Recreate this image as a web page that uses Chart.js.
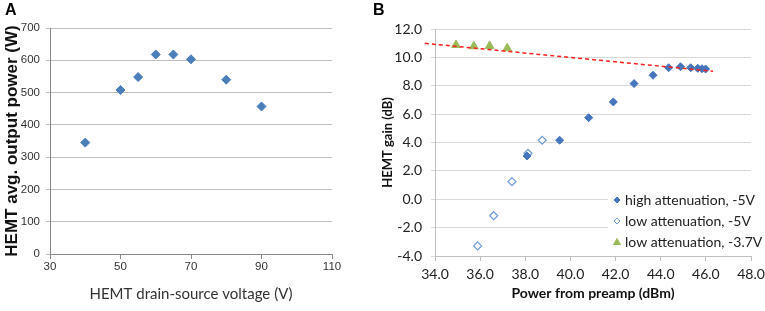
<!DOCTYPE html>
<html>
<head>
<meta charset="utf-8">
<script src="https://cdn.jsdelivr.net/npm/chart.js@4/dist/chart.umd.min.js"></script>
<style>
  html, body { margin: 0; padding: 0; background: #fff; }
  #wrap { position: relative; width: 765px; height: 311px; overflow: hidden; }
  canvas { position: absolute; top: 0; }
  .panel { position: absolute; top: 2px; font: bold 16px "Liberation Sans", Arial, sans-serif; line-height: 16px; color: #000; }
</style>
</head>
<body>
<div id="wrap">
  <canvas id="chartA" width="385" height="311" style="left:0"></canvas>
  <canvas id="chartB" width="395" height="311" style="left:370px"></canvas>
  <div class="panel" style="left:5px">A</div>
  <div class="panel" style="left:373px">B</div>
</div>
<script>
// panel A: output power vs drain-source voltage
const voltage = [40, 50, 55, 60, 65, 70, 80, 90];
const outputPower = [345, 508, 548, 618, 618, 603, 540, 457];

// panel B: gain vs preamp power
const highAttnX = [38.08, 39.52, 40.81, 41.9, 42.82, 43.66, 44.35, 44.88, 45.33, 45.64, 45.83, 45.99];
const highAttnY = [3.05, 4.16, 5.75, 6.86, 8.15, 8.74, 9.27, 9.34, 9.27, 9.23, 9.2, 9.18];
const lowAttnX = [35.89, 36.6, 37.41, 38.12, 38.75];
const lowAttnY = [-3.29, -1.16, 1.24, 3.24, 4.16];
const lowAttn37X = [34.93, 35.72, 36.42, 37.2];
const lowAttn37Y = [10.87, 10.78, 10.8, 10.64];
const trendX = [33.55, 46.32];
const trendY = [10.99, 9.02];

const seriesLabels = ["high attenuation, -5V", "low attenuation, -5V", "low attenuation, -3.7V"];

const toPoints = (xs, ys) => xs.map((x, i) => ({ x: x, y: ys[i] }));

const blue = "#4a7ebb";
const green = "#9bbb59";

// left chart
let ctxA = document.getElementById("chartA").getContext("2d");
let chartA = new Chart(ctxA, {
  type: "scatter",
  data: {
    datasets: [{
      data: toPoints(voltage, outputPower),
      pointStyle: "rectRot",
      pointRadius: 4.5,
      backgroundColor: blue,
      borderColor: blue,
      borderWidth: 1
    }]
  },
  options: {
    responsive: false,
    animation: false,
    layout: { padding: { top: 28, right: 53, left: 0, bottom: 0 } },
    plugins: { legend: { display: false }, tooltip: { enabled: false } },
    scales: {
      x: {
        min: 30, max: 110,
        ticks: { stepSize: 20, padding: 1, color: "#333", font: { family: "Liberation Sans", size: 11.5 } },
        grid: { drawOnChartArea: false, drawTicks: true, tickLength: 5, color: "#888" },
        border: { color: "#888" },
        title: { display: true, text: "HEMT drain-source voltage (V)", color: "#333",
                 font: { family: "Lato", size: 15 }, padding: { top: 0, bottom: 8 } },
        afterFit: s => { s.height = 57; s.paddingLeft = 0; s.paddingRight = 0; }
      },
      y: {
        min: 0, max: 700,
        ticks: { stepSize: 100, padding: 6, color: "#333", font: { family: "Liberation Sans", size: 11.5 } },
        grid: { color: "#bfbfbf", tickLength: 4 },
        border: { color: "#888" },
        title: { display: true, text: "HEMT avg. output power (W)", color: "#111",
                 font: { family: "Liberation Sans", size: 17, weight: "bold" }, padding: { top: 2, bottom: 0 } },
        afterFit: s => { s.width = 50; }
      }
    }
  }
});

// legend drawn inside the plot area of panel B
const boxLegend = {
  id: "boxLegend",
  beforeDatasetsDraw(chart) {
    const c = chart.ctx;
    const area = chart.chartArea;
    c.save();
    c.fillStyle = "#fff";
    c.fillRect(238, 186, area.right - 238, area.bottom - 188);
    c.font = "14px Lato";
    c.textBaseline = "middle";
    const rows = [200, 221, 242];
    chart.data.datasets.forEach(ds => {
      const i = seriesLabels.indexOf(ds.label);
      if (i < 0) return;
      const y = rows[i], x = 247;
      c.beginPath();
      if (ds.pointStyle === "triangle") {
        c.moveTo(x, y - 3.5); c.lineTo(x + 3.5, y + 2.5); c.lineTo(x - 3.5, y + 2.5);
      } else {
        c.moveTo(x, y - 3); c.lineTo(x + 3, y); c.lineTo(x, y + 3); c.lineTo(x - 3, y);
      }
      c.closePath();
      c.fillStyle = ds.backgroundColor;
      c.fill();
      c.strokeStyle = ds.borderColor;
      c.lineWidth = 1;
      c.stroke();
      c.fillStyle = "#222";
      c.fillText(ds.label, 255, y);
    });
    c.restore();
  }
};

// right chart
let ctxB = document.getElementById("chartB").getContext("2d");
let chartB = new Chart(ctxB, {
  type: "scatter",
  data: {
    datasets: [
      {
        label: "trend",
        data: toPoints(trendX, trendY),
        showLine: true,
        borderColor: "#ff2020",
        borderWidth: 1.5,
        borderDash: [4, 3],
        pointRadius: 0,
        clip: false
      },
      {
        label: seriesLabels[0],
        data: toPoints(highAttnX, highAttnY),
        pointStyle: "rectRot",
        pointRadius: 4,
        backgroundColor: "#4475bd",
        borderColor: "#4475bd",
        borderWidth: 1
      },
      {
        label: seriesLabels[1],
        data: toPoints(lowAttnX, lowAttnY),
        pointStyle: "rectRot",
        pointRadius: 4,
        backgroundColor: "#fff",
        borderColor: "#6f9bd6",
        borderWidth: 1.2
      },
      {
        label: seriesLabels[2],
        data: toPoints(lowAttn37X, lowAttn37Y),
        pointStyle: "triangle",
        pointRadius: 5,
        backgroundColor: green,
        borderColor: green,
        borderWidth: 1
      }
    ]
  },
  options: {
    responsive: false,
    animation: false,
    layout: { padding: { top: 29, right: 14, left: 0, bottom: 0 } },
    plugins: { legend: { display: false }, tooltip: { enabled: false } },
    scales: {
      x: {
        min: 34, max: 48,
        ticks: { stepSize: 2, padding: 5, color: "#222", font: { family: "Lato", size: 14 },
                 callback: v => v.toFixed(1) },
        grid: { drawOnChartArea: false, drawTicks: true, tickLength: 5, color: "#bfbfbf" },
        border: { color: "#bfbfbf" },
        title: { display: true, text: "Power from preamp (dBm)", color: "#111",
                 font: { family: "Lato", size: 14, weight: "bold" }, padding: { top: 0, bottom: 9 } },
        afterFit: s => { s.height = 55; s.paddingLeft = 0; s.paddingRight = 0; }
      },
      y: {
        min: -4, max: 12,
        ticks: { stepSize: 2, padding: 9, color: "#222", font: { family: "Lato", size: 14 },
                 callback: v => v.toFixed(1) },
        grid: { color: "#d9d9d9", tickLength: 4 },
        border: { color: "#bfbfbf" },
        title: { display: true, text: "HEMT gain (dB)", color: "#111",
                 font: { family: "Lato", size: 13, weight: "bold" }, padding: { top: 10, bottom: 0 } },
        afterFit: s => { s.width = 65; }
      }
    }
  },
  plugins: [boxLegend]
});
</script>
</body>
</html>
